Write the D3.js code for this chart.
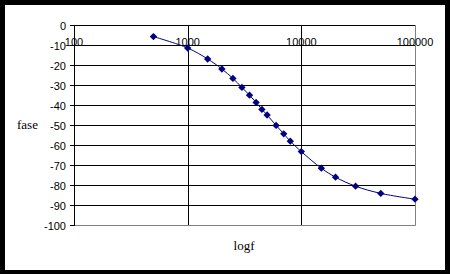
<!DOCTYPE html>
<html>
<head>
<meta charset="utf-8">
<script src="https://cdn.jsdelivr.net/npm/d3@7"></script>
<style>
  html, body { margin: 0; padding: 0; background: #000; }
  svg { display: block; }
</style>
</head>
<body>
<script>
// values
var freq = [500, 1000, 1500, 2000, 2500, 3000, 3500, 4000, 4500, 5000, 6000, 7000, 8000, 10000, 15000, 20000, 30000, 50000, 100000];
var fase = [-5.8, -11.5, -17, -22, -26.7, -31.2, -35.1, -38.7, -42.2, -45, -50.2, -54.4, -58.1, -63.3, -71.6, -76.1, -80.6, -84.2, -87.1];
var yTicks = [0, -10, -20, -30, -40, -50, -60, -70, -80, -90, -100];
var xTicks = [100, 1000, 10000, 100000];

var w = 450, h = 274;
var pl = 74, pt = 25, pr = 415, pb = 225;

var svg = d3.select("body").append("svg")
    .attr("width", w)
    .attr("height", h);

svg.append("rect").attr("width", w).attr("height", h).attr("fill", "#000");
svg.append("rect").attr("x", 5).attr("y", 5).attr("width", 440).attr("height", 265).attr("fill", "#fff");

var x = d3.scaleLog().domain([100, 100000]).range([pl, pr]);
var y = d3.scaleLinear().domain([-100, 0]).range([pb, pt]);

// horizontal gridlines
svg.append("g").selectAll("line").data(yTicks.filter(function (d) { return d > -100; }))
    .enter().append("line")
    .attr("x1", pl - 4).attr("x2", pr)
    .attr("y1", function (d) { return y(d) + 0.5; })
    .attr("y2", function (d) { return y(d) + 0.5; })
    .attr("stroke", "#000");

// vertical gridlines
svg.append("g").selectAll("line").data([1000, 10000])
    .enter().append("line")
    .attr("x1", function (d) { return Math.round(x(d)) + 0.5; })
    .attr("x2", function (d) { return Math.round(x(d)) + 0.5; })
    .attr("y1", pt).attr("y2", pb)
    .attr("stroke", "#000");

// plot border right / bottom (grey)
svg.append("path")
    .attr("d", "M" + (pr + 0.5) + "," + pt + "V" + (pb + 0.5) + "H" + pl)
    .attr("fill", "none").attr("stroke", "#808080");
svg.append("line")
    .attr("x1", pl - 4).attr("x2", pl)
    .attr("y1", pb + 0.5).attr("y2", pb + 0.5)
    .attr("stroke", "#000");

// y axis
svg.append("line")
    .attr("x1", pl + 0.5).attr("x2", pl + 0.5)
    .attr("y1", pt).attr("y2", pb + 1)
    .attr("stroke", "#000");

svg.append("g").selectAll("text").data(yTicks)
    .enter().append("text")
    .attr("x", 66)
    .attr("y", function (d) { return y(d) + 4.5; })
    .attr("text-anchor", "end")
    .attr("fill", "#000")
    .style("font", "11px 'Liberation Sans', Arial, sans-serif")
    .text(function (d) { return d; });

svg.append("g").selectAll("text").data(xTicks)
    .enter().append("text")
    .attr("x", function (d) { return x(d); })
    .attr("y", 45.5)
    .attr("text-anchor", "middle")
    .attr("fill", "#000")
    .style("font", "11px 'Liberation Sans', Arial, sans-serif")
    .text(function (d) { return d; });

svg.append("text")
    .attr("x", 17).attr("y", 128.5)
    .style("font", "13px 'Liberation Serif', 'Times New Roman', serif")
    .text("fase");

svg.append("text")
    .attr("x", 244).attr("y", 250)
    .attr("text-anchor", "middle")
    .style("font", "13px 'Liberation Serif', 'Times New Roman', serif")
    .text("logf");

// series
var pts = freq.map(function (f, i) { return [x(f), y(fase[i])]; });

var line = d3.line().curve(d3.curveCatmullRom.alpha(0.5));

svg.append("path")
    .attr("d", line(pts))
    .attr("fill", "none")
    .attr("stroke", "#000080")
    .attr("stroke-width", 1);

svg.append("g").selectAll("path").data(pts)
    .enter().append("path")
    .attr("d", d3.symbol().type(d3.symbolSquare).size(27))
    .attr("transform", function (d) { return "translate(" + d[0] + "," + d[1] + ") rotate(45)"; })
    .attr("fill", "#000080");
</script>
</body>
</html>
